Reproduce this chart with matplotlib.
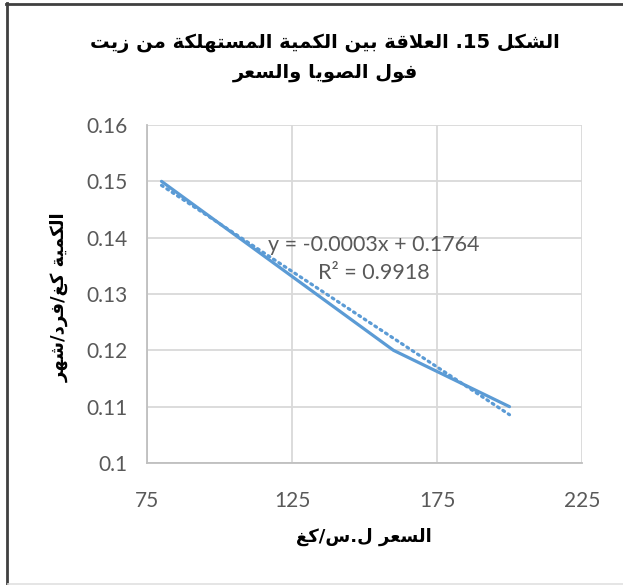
import re
import numpy as np
import matplotlib
matplotlib.use("Agg")
import matplotlib.pyplot as plt
from matplotlib.lines import Line2D
from matplotlib.ticker import FuncFormatter

# price (SYP/kg) against monthly soybean-oil consumption per person (kg)
price = [80, 160, 200]
quantity = [0.15, 0.12, 0.11]

x_ticks = [75, 125, 175, 225]
y_ticks = [0.10, 0.11, 0.12, 0.13, 0.14, 0.15, 0.16]

title_lines = ["الشكل 15. العلاقة بين الكمية المستهلكة من زيت", "فول الصويا والسعر"]
x_title = "السعر ل.س/كغ"
y_title = "الكمية كغ/فرد/شهر"

# Arabic presentation forms: isolated, final, initial, medial
FORMS = {
    "ا": (0xFE8D, 0xFE8E),
    "ب": (0xFE8F, 0xFE90, 0xFE91, 0xFE92),
    "ة": (0xFE93, 0xFE94),
    "ت": (0xFE95, 0xFE96, 0xFE97, 0xFE98),
    "د": (0xFEA9, 0xFEAA),
    "ر": (0xFEAD, 0xFEAE),
    "ز": (0xFEAF, 0xFEB0),
    "س": (0xFEB1, 0xFEB2, 0xFEB3, 0xFEB4),
    "ش": (0xFEB5, 0xFEB6, 0xFEB7, 0xFEB8),
    "ص": (0xFEB9, 0xFEBA, 0xFEBB, 0xFEBC),
    "ع": (0xFEC9, 0xFECA, 0xFECB, 0xFECC),
    "غ": (0xFECD, 0xFECE, 0xFECF, 0xFED0),
    "ف": (0xFED1, 0xFED2, 0xFED3, 0xFED4),
    "ق": (0xFED5, 0xFED6, 0xFED7, 0xFED8),
    "ك": (0xFED9, 0xFEDA, 0xFEDB, 0xFEDC),
    "ل": (0xFEDD, 0xFEDE, 0xFEDF, 0xFEE0),
    "م": (0xFEE1, 0xFEE2, 0xFEE3, 0xFEE4),
    "ن": (0xFEE5, 0xFEE6, 0xFEE7, 0xFEE8),
    "ه": (0xFEE9, 0xFEEA, 0xFEEB, 0xFEEC),
    "و": (0xFEED, 0xFEEE),
    "ي": (0xFEF1, 0xFEF2, 0xFEF3, 0xFEF4),
}
LAM_ALEF = (0xFEFB, 0xFEFC)


def shape(text):
    # join the letters, then lay the line out right to left (digit runs stay LTR)
    units = []
    i = 0
    while i < len(text):
        if text[i] == "ل" and text[i + 1:i + 2] == "ا":
            units.append(("لا", LAM_ALEF))
            i += 2
        else:
            units.append((text[i], FORMS.get(text[i])))
            i += 1
    out = []
    for k, (ch, f) in enumerate(units):
        if f is None:
            out.append(ch)
            continue
        prev = units[k - 1][1] if k > 0 else None
        nxt = units[k + 1][1] if k + 1 < len(units) else None
        join_prev = prev is not None and len(prev) == 4
        join_next = len(f) == 4 and nxt is not None
        if join_prev and join_next:
            c = f[3]
        elif join_prev:
            c = f[1]
        elif join_next:
            c = f[2]
        else:
            c = f[0]
        out.append(chr(c))
    tokens = re.findall(r"[0-9A-Za-z]+|.", "".join(out))
    return "".join(reversed(tokens))


slope, intercept = np.polyfit(price, quantity, 1)
r2 = np.corrcoef(price, quantity)[0, 1] ** 2

blue = "#5b9bd5"
grey = "#595959"
arabic = ["DejaVu Sans"]
plt.rcParams["font.family"] = ["Lato", "DejaVu Sans"]

fig = plt.figure(figsize=(6.23, 5.85), dpi=100)
ax = fig.add_axes([147 / 623, 1 - 463 / 585, 435 / 623, 338 / 585])

ax.plot(price, quantity, color=blue, lw=2.3, solid_capstyle="round", zorder=3)
xs = np.array([min(price), max(price)])
ax.plot(xs, slope * xs + intercept, color=blue, lw=2.3,
        linestyle=(0, (0.6, 1.4)), dash_capstyle="round", zorder=3)

ax.text(153.3, 0.1387, f"y = {slope:.4f}x + {intercept:.4f}", color=grey,
        fontsize=15.5, ha="center", va="center")
ax.text(153.3, 0.1337, f"R² = {r2:.4f}", color=grey, fontsize=15.5,
        ha="center", va="center")

ax.set_xlim(75, 225)
ax.set_ylim(0.10, 0.16)
ax.set_xticks(x_ticks)
ax.set_yticks(y_ticks)
ax.yaxis.set_major_formatter(FuncFormatter(lambda v, _: f"{round(v, 4):g}"))
ax.tick_params(length=0, labelsize=15, labelcolor=grey)
ax.tick_params(axis="y", pad=14)
ax.tick_params(axis="x", pad=20)
ax.grid(True, color="#d9d9d9", lw=1.3)
ax.set_axisbelow(True)
for side in ["top", "right"]:
    ax.spines[side].set_visible(False)
for side in ["left", "bottom"]:
    ax.spines[side].set_color("#bfbfbf")
    ax.spines[side].set_linewidth(1.3)

fig.text(325 / 623, 1 - 43 / 585, shape(title_lines[0]), family=arabic,
         fontweight="bold", fontsize=14, ha="center", va="center")
fig.text(325 / 623, 1 - 73 / 585, shape(title_lines[1]), family=arabic,
         fontweight="bold", fontsize=14, ha="center", va="center")
fig.text(364 / 623, 1 - 537 / 585, shape(x_title), family=arabic,
         fontweight="bold", fontsize=13, ha="center", va="center")
fig.text(60 / 623, 1 - 297 / 585, shape(y_title), family=arabic,
         fontweight="bold", fontsize=13, ha="center", va="center", rotation=90)

# frame round the chart
fig.add_artist(Line2D([6 / 623, 1], [1 - 3.5 / 585] * 2, color="#404040", lw=2))
fig.add_artist(Line2D([6.5 / 623] * 2, [0, 1 - 3 / 585], color="#404040", lw=2))
fig.add_artist(Line2D([8 / 623, 1], [1.5 / 585] * 2, color="#e0e0e0", lw=1.2))

fig.savefig("out.png", dpi=100)
